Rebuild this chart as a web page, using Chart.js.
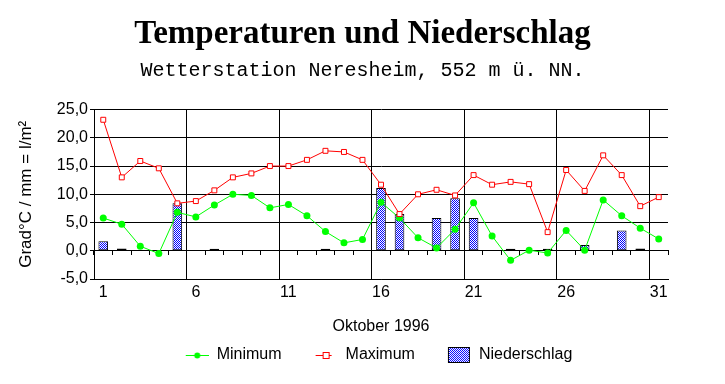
<!DOCTYPE html>
<html>
<head>
<meta charset="utf-8">
<script src="https://cdn.jsdelivr.net/npm/chart.js@4"></script>
<style>
  html, body { margin: 0; padding: 0; background: #fff; }
  #wrap { width: 725px; height: 384px; }
</style>
</head>
<body>
<div id="wrap"><canvas id="chart" width="725" height="384"></canvas></div>
<script>
const days = ['1','2','3','4','5','6','7','8','9','10','11','12','13','14','15','16',
  '17','18','19','20','21','22','23','24','25','26','27','28','29','30','31']
const minimum = [5.8, 4.7, 0.8, -0.5, 6.8, 6.0, 8.1, 10.0, 9.8, 7.6, 8.2, 6.2, 3.4, 1.4, 2.0, 8.6,
  5.8, 2.3, 0.5, 3.8, 8.5, 2.6, -1.7, 0.1, -0.4, 3.6, 0.1, 9.0, 6.2, 4.0, 2.1]
const maximum = [23.2, 13.0, 15.9, 14.6, 8.4, 8.8, 10.7, 13.0, 13.7, 15.0, 15.0, 16.1, 17.7, 17.5, 16.1, 11.7,
  6.5, 10.0, 10.8, 9.8, 13.4, 11.7, 12.2, 11.8, 3.3, 14.3, 10.6, 16.9, 13.4, 7.9, 9.5]
// null = kein Niederschlag
const niederschlag = [1.7, 0.4, null, null, 8.4, null, 0.1, null, null, null, null, null, 0.1, null, null, 11.1,
  6.5, null, 5.8, 9.3, 5.8, null, 0.1, null, 0.1, null, 1.0, null, 3.6, 0.4, null]
const yTicks = [-5, 0, 5, 10, 15, 20, 25]

const GREEN = '#00ff00'
const RED = '#ff0000'
const BLUE = '#0000ff'

// dotted fill like the old bitmap
function makePattern () {
  const c = document.createElement('canvas')
  c.width = 2; c.height = 2
  const g = c.getContext('2d')
  g.fillStyle = '#fff'; g.fillRect(0, 0, 2, 2)
  g.fillStyle = BLUE
  g.fillRect(0, 0, 1, 1)
  g.fillRect(1, 1, 1, 1)
  return document.getElementById('chart').getContext('2d').createPattern(c, 'repeat')
}
const pattern = makePattern()

function legendIcon (kind) {
  const c = document.createElement('canvas')
  c.width = 56; c.height = 16
  const g = c.getContext('2d')
  if (kind === 'min') {
    g.strokeStyle = GREEN; g.lineWidth = 1
    g.beginPath(); g.moveTo(33, 8.5); g.lineTo(56, 8.5); g.stroke()
    g.fillStyle = GREEN
    g.beginPath(); g.arc(44.5, 8.5, 3, 0, Math.PI * 2); g.fill()
  } else if (kind === 'max') {
    g.strokeStyle = RED; g.lineWidth = 1
    g.beginPath(); g.moveTo(34, 8.5); g.lineTo(50, 8.5); g.stroke()
    g.fillStyle = '#fff'; g.fillRect(41, 5, 6, 6)
    g.strokeRect(41.5, 5.5, 6, 6)
  } else {
    g.fillStyle = pattern; g.fillRect(33, 0, 22, 16)
    g.strokeStyle = '#000'; g.lineWidth = 1
    g.strokeRect(33.5, 0.5, 21, 15)
  }
  return c
}

Chart.defaults.color = '#000'
Chart.defaults.font.family = "'Liberation Sans', Arial, sans-serif"
Chart.defaults.font.size = 16

const chart = new Chart(document.getElementById('chart'), {
  type: 'bar',
  data: {
    labels: days,
    datasets: [
      {
        type: 'line',
        label: 'Minimum',
        data: minimum,
        borderColor: GREEN,
        backgroundColor: GREEN,
        borderWidth: 1,
        pointStyle: 'circle',
        pointRadius: 3.5,
        pointBorderWidth: 0,
        tension: 0,
        order: 1
      },
      {
        type: 'line',
        label: 'Maximum',
        data: maximum,
        borderColor: RED,
        backgroundColor: '#fff',
        borderWidth: 1,
        pointStyle: 'rect',
        pointRadius: 3.5,
        pointBorderWidth: 1,
        tension: 0,
        order: 0
      },
      {
        label: 'Niederschlag',
        data: niederschlag,
        backgroundColor: pattern,
        borderColor: '#000',
        borderWidth: 1,
        borderSkipped: false,
        barPercentage: 0.52,
        categoryPercentage: 1,
        minBarLength: 2,
        order: 2
      }
    ]
  },
  options: {
    responsive: false,
    animation: false,
    events: [],
    layout: { padding: { left: 0, right: 0, top: 0, bottom: 11 } },
    scales: {
      x: {
        type: 'category',
        offset: true,
        afterFit: (s) => { s.height = 68 },
        grid: {
          offset: true,
          drawTicks: false,
          color: (ctx) => (ctx.index % 5 === 0 && ctx.index > 0 && ctx.index < days.length) ? '#000' : 'rgba(0,0,0,0)'
        },
        border: { color: '#000' },
        ticks: {
          autoSkip: false,
          maxRotation: 0,
          padding: 4,
          callback: function (value, index) {
            return index % 5 === 0 ? this.getLabelForValue(value) : ''
          }
        },
        title: { display: true, text: 'Oktober 1996', padding: { top: 0, bottom: 11 } }
      },
      x0: {
        type: 'category',
        position: { y: 0 },
        offset: true,
        grid: { offset: true, drawOnChartArea: false, drawTicks: true, tickLength: 4, color: '#000' },
        border: { display: true, color: '#000' },
        ticks: { display: false }
      },
      y: {
        min: -5,
        max: 25,
        afterFit: (s) => { s.width = 94 },
        afterBuildTicks: (s) => { s.ticks = yTicks.map(v => ({ value: v })) },
        grid: { color: '#000', tickLength: 4 },
        border: { color: '#000' },
        ticks: {
          padding: 2,
          callback: (v) => v.toFixed(1).replace('.', ',')
        },
        title: { display: true, text: 'Grad°C / mm = l/m²', font: { size: 17 }, padding: { top: 16, bottom: 0 } }
      },
      yR: {
        position: 'right',
        afterFit: (s) => { s.width = 57 },
        grid: { display: false },
        border: { display: false },
        ticks: { display: false }
      }
    },
    plugins: {
      title: {
        display: true,
        text: 'Temperaturen und Niederschlag',
        color: '#000',
        font: { family: "'Liberation Serif', 'Times New Roman', serif", size: 33, weight: 'bold' },
        padding: { top: 15, bottom: 0 }
      },
      subtitle: {
        display: true,
        text: 'Wetterstation Neresheim, 552 m ü. NN.',
        color: '#000',
        font: { family: "'Liberation Mono', 'Courier New', monospace", size: 20 },
        padding: { top: 4, bottom: 27 }
      },
      legend: {
        position: 'bottom',
        labels: {
          usePointStyle: true,
          pointStyleWidth: 56,
          padding: 0,
          color: '#000',
          font: { size: 16 },
          generateLabels: () => [
            { text: 'Minimum', pointStyle: legendIcon('min'), lineWidth: 0, strokeStyle: 'rgba(0,0,0,0)', fillStyle: 'rgba(0,0,0,0)', datasetIndex: 0, fontColor: '#000' },
            { text: 'Maximum', pointStyle: legendIcon('max'), lineWidth: 0, strokeStyle: 'rgba(0,0,0,0)', fillStyle: 'rgba(0,0,0,0)', datasetIndex: 1, fontColor: '#000' },
            { text: 'Niederschlag', pointStyle: legendIcon('bar'), lineWidth: 0, strokeStyle: 'rgba(0,0,0,0)', fillStyle: 'rgba(0,0,0,0)', datasetIndex: 2, fontColor: '#000' }
          ]
        }
      },
      tooltip: { enabled: false }
    }
  }
})
</script>
</body>
</html>
